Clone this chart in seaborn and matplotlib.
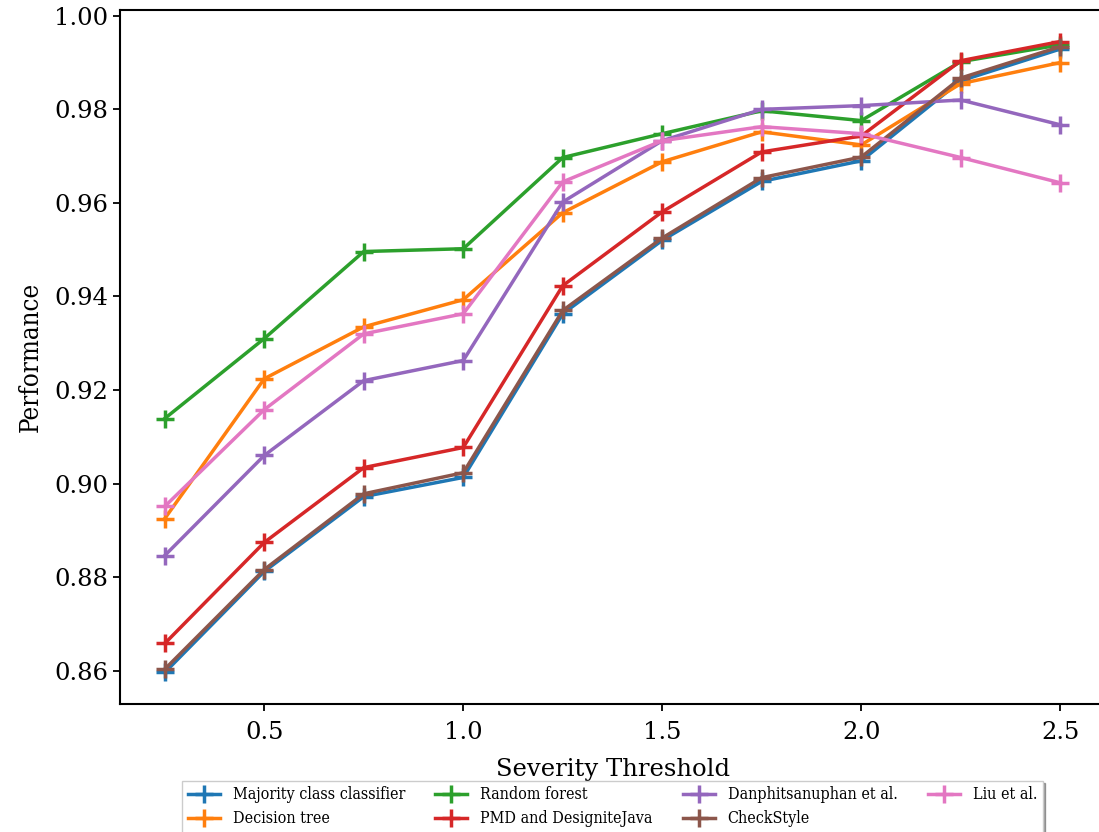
import matplotlib
matplotlib.use("Agg")
import matplotlib.pyplot as plt
import seaborn as sns
import pandas as pd

thresholds = [0.25, 0.5, 0.75, 1.0, 1.25, 1.5, 1.75, 2.0, 2.25, 2.5]

majority = [0.8596, 0.8812, 0.8972, 0.9013, 0.9363, 0.9520, 0.9646, 0.9690, 0.9861, 0.9929]
decision_tree = [0.8925, 0.9224, 0.9335, 0.9393, 0.9579, 0.9688, 0.9752, 0.9724, 0.9855, 0.9900]
random_forest = [0.9139, 0.9310, 0.9496, 0.9502, 0.9697, 0.9748, 0.9797, 0.9776, 0.9902, 0.9938]
pmd = [0.8658, 0.8874, 0.9034, 0.9077, 0.9423, 0.9581, 0.9709, 0.9743, 0.9904, 0.9945]
danph = [0.8846, 0.9060, 0.9220, 0.9263, 0.9602, 0.9733, 0.9800, 0.9808, 0.9820, 0.9767]
checkstyle = [0.8603, 0.8816, 0.8978, 0.9023, 0.9370, 0.9525, 0.9654, 0.9698, 0.9867, 0.9934]
liu = [0.8951, 0.9158, 0.9320, 0.9363, 0.9645, 0.9733, 0.9763, 0.9748, 0.9697, 0.9643]

names = ["Majority class classifier", "Decision tree", "Random forest",
         "PMD and DesigniteJava", "Danphitsanuphan et al.", "CheckStyle", "Liu et al."]
series = [majority, decision_tree, random_forest, pmd, danph, checkstyle, liu]

xticks = [0.5, 1.0, 1.5, 2.0, 2.5]
xtick_labels = ["0.5", "1.0", "1.5", "2.0", "2.5"]
yticks = [0.86, 0.88, 0.90, 0.92, 0.94, 0.96, 0.98, 1.00]
ytick_labels = ["0.86", "0.88", "0.90", "0.92", "0.94", "0.96", "0.98", "1.00"]

rows = []
for n, vals in zip(names, series):
    for x, v in zip(thresholds, vals):
        rows.append({"Severity Threshold": x, "Performance": v, "Method": n})
df = pd.DataFrame(rows)

fig = plt.figure(figsize=(10.99, 8.32), dpi=100)
ax = fig.add_axes([120 / 1099, 128 / 832, 985 / 1099, 694 / 832])

sns.lineplot(data=df, x="Severity Threshold", y="Performance", hue="Method",
             hue_order=names, palette="tab10", marker="+", markersize=13,
             markeredgewidth=2.5, linewidth=2.5, ax=ax)

for line in ax.get_lines():
    line.set_markeredgecolor(line.get_color())
    line.set_markerfacecolor(line.get_color())

for s in ax.spines.values():
    s.set_linewidth(1.5)
ax.tick_params(axis="both", width=1.3, length=5)
ax.tick_params(axis="x", pad=7)
ax.set_yticks(yticks)
ax.set_yticklabels(ytick_labels, family="DejaVu Serif", fontsize=17.5)
ax.set_xticks(xticks)
ax.set_xticklabels(xtick_labels, family="DejaVu Serif", fontsize=17.5)
ax.set_xlabel("Severity Threshold", family="DejaVu Serif", fontsize=17.5, labelpad=10)
ax.set_ylabel("Performance", family="DejaVu Serif", fontstretch="condensed",
              fontsize=18.5, labelpad=8)

handles, labels = ax.get_legend_handles_labels()
for h in handles:
    try:
        h.set_markeredgecolor(h.get_color())
        h.set_markerfacecolor(h.get_color())
    except Exception:
        pass
ax.legend(handles, labels, loc="upper center", bbox_to_anchor=(0.5, -0.099), ncol=4,
          shadow=True, fancybox=False,
          prop={"family": "DejaVu Serif", "stretch": "condensed", "size": 11.5},
          columnspacing=1.9, handlelength=2.0, borderpad=0.35, labelspacing=0.45)

fig.savefig("out.png", dpi=100)
